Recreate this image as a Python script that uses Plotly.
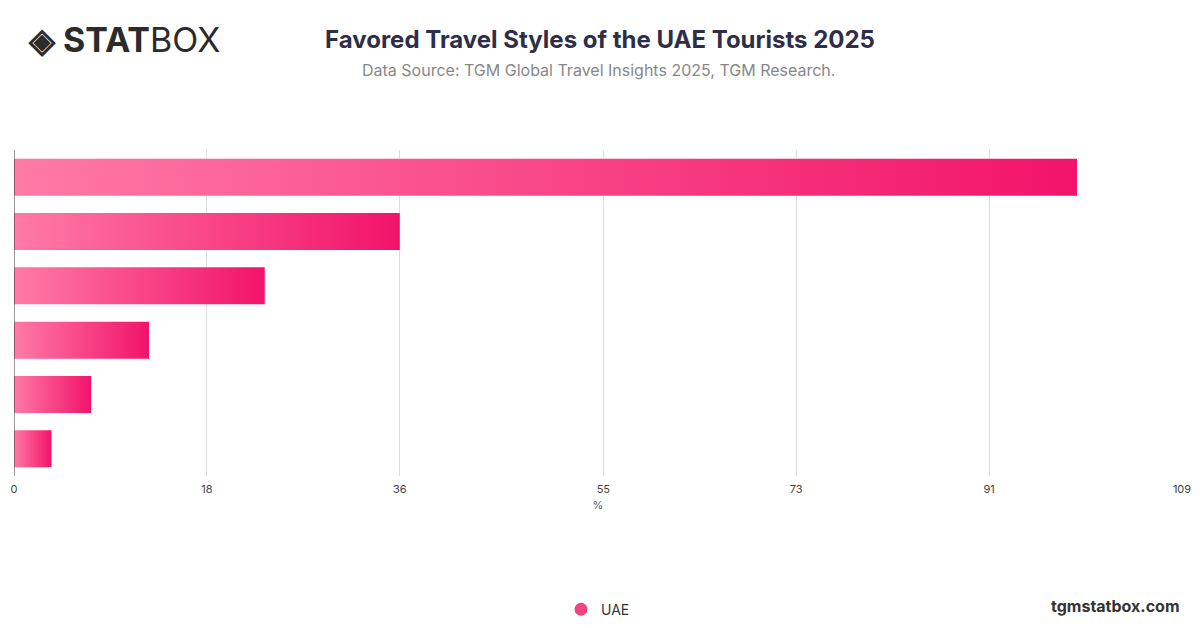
import plotly.graph_objects as go

# Favored travel styles, share of UAE tourists (%)
styles = ["Style 1", "Style 2", "Style 3", "Style 4", "Style 5", "Style 6"]
values = [99.2, 36.0, 23.4, 12.6, 7.2, 3.5]
tick_vals = [0, 18, 36, 55, 73, 91, 109]

BAR_W = 0.68
fig = go.Figure()
n = len(values)
for i, (name, v) in enumerate(zip(styles, values)):
    y = n - 1 - i
    lo, hi = y - BAR_W / 2, y + BAR_W / 2
    fig.add_trace(go.Scatter(
        x=[0, v, v, 0, 0], y=[lo, lo, hi, hi, lo], mode="lines", fill="toself",
        line=dict(width=0), showlegend=False, name=name, hoverinfo="skip",
        fillgradient=dict(type="horizontal",
                          colorscale=[[0, "#ff7aa6"], [1, "#f2136a"]]),
    ))
# legend entry
fig.add_trace(go.Scatter(x=[None], y=[None], mode="markers", name="UAE",
                         marker=dict(size=13, color="#f2427f")))

# page body has an 8px margin, so the figure is sized to fit the window
fig.update_layout(
    width=1184, height=612, template="plotly_white",
    margin=dict(l=6, r=10, t=142, b=144, autoexpand=False),
    font=dict(family="Inter, Roboto, sans-serif", color="#555"),
    title=dict(text="<b>Favored Travel Styles of the UAE Tourists 2025</b>",
               x=0.5, y=0.948, xanchor="center", yanchor="middle",
               font=dict(size=24, color="#2e2e48")),
    xaxis=dict(range=[0, 109], tickvals=tick_vals, showgrid=True, automargin=False,
               gridcolor="#dddddd", zeroline=False, showline=False,
               ticks="outside", ticklen=3, tickcolor="rgba(0,0,0,0)",
               tickfont=dict(size=11, color="#444"),
               title=dict(text="%", font=dict(size=11, color="#555"), standoff=6)),
    yaxis=dict(range=[-0.5, n - 0.5], showticklabels=False, showgrid=False,
               automargin=False, zeroline=False, showline=False),
    legend=dict(orientation="h", x=0.5, xanchor="center", y=-0.41, yanchor="middle",
                font=dict(size=14, color="#333")),
    shapes=[dict(type="line", xref="x", yref="paper", x0=0, x1=0, y0=0, y1=1,
                 line=dict(color="#333", width=1))],
    annotations=[
        dict(text="Data Source: TGM Global Travel Insights 2025, TGM Research.",
             xref="paper", yref="paper", x=0.5, y=1.245, yanchor="middle",
             showarrow=False, font=dict(size=16, color="#888")),
        dict(text="<b>◈ STAT</b>BOX", xref="paper", yref="paper", x=0.01,
             y=1.34, xanchor="left", yanchor="middle", showarrow=False,
             font=dict(size=34, color="#2b2b2b")),
        dict(text="<b>tgmstatbox.com</b>", xref="paper", yref="paper", x=1,
             y=-0.40, xanchor="right", yanchor="middle", showarrow=False,
             font=dict(size=16, color="#333")),
    ],
)
fig.write_html("out.html")
